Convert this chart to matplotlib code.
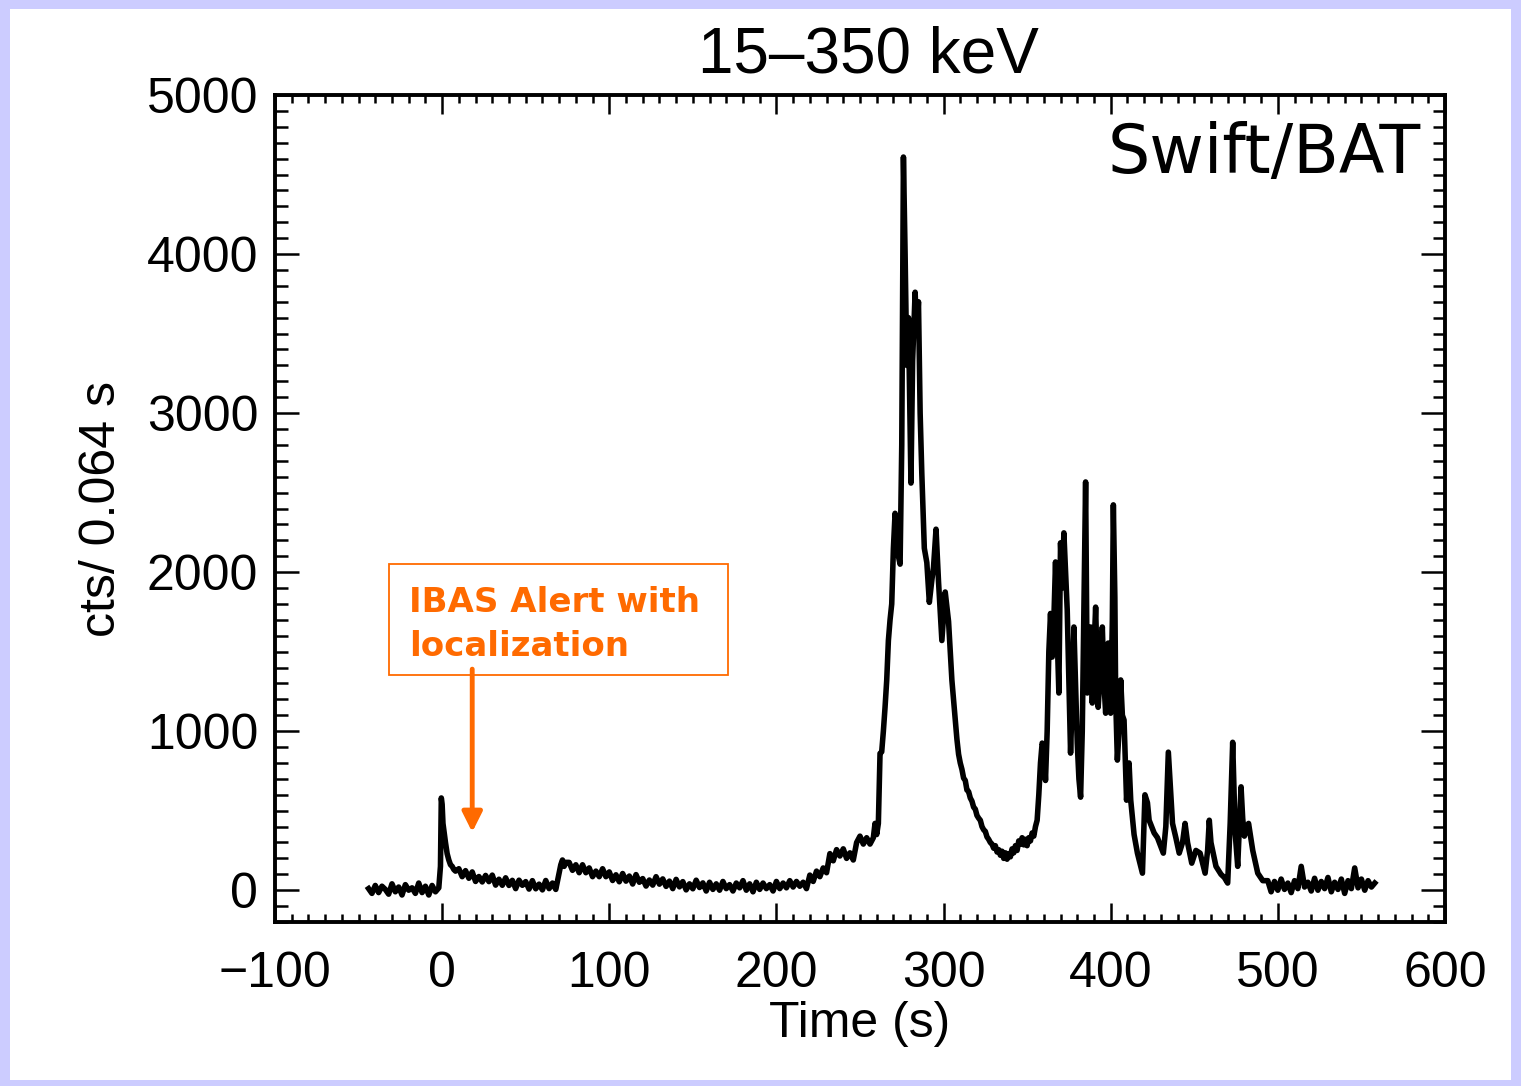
import matplotlib
matplotlib.use('Agg')
import matplotlib.pyplot as plt
from matplotlib.patches import Rectangle
from matplotlib.ticker import MultipleLocator
import numpy as np

plt.rcParams['font.family'] = ['Liberation Sans', 'DejaVu Sans']

ORANGE = '#ff6a00'
LAVENDER = '#ccccff'

# BAT light curve, 15-350 keV, counts per 0.064 s bin, by segment
pre_t = np.arange(-44, -1, 2)
pre_c = [10, -20, 30, -15, 25, 5, -25, 40, -10, 20, -30, 35, 0, 15, -20, 45,
         -15, 25, -30, 30, -10, 15]

spike_t = [-1, -0.5, 0, 0.5, 1, 2, 3, 4, 5, 6, 7, 8]
spike_c = [150, 580, 540, 420, 380, 300, 230, 190, 160, 150, 130, 120]

decay_t = np.arange(10, 69, 2)
decay_c = [135, 85, 123, 75, 115, 55, 86, 52, 93, 54,
           95, 32, 69, 31, 78, 30, 62, 10, 63, 31,
           54, 7, 60, 9, 38, 2, 61, 10, 45, 5]

bump_t = [70, 71, 72, 73, 74]
bump_c = [110, 160, 190, 150, 175]

quiet_t = np.arange(76, 215, 2)
quiet_c = [175, 125, 160, 110, 160, 110, 140, 85, 120, 85,
           135, 85, 115, 61, 97, 53, 105, 57, 89, 39,
           98, 50, 73, 26, 64, 32, 85, 38, 71, 24,
           57, 10, 68, 21, 54, 2, 40, 9, 63, 17,
           46, -5, 50, 5, 40, 0, 55, 10, 35, -5,
           45, 15, 60, 0, 40, -10, 50, 5, 45, 10,
           35, -5, 55, 10, 45, 15, 60, 20, 55, 25]

rise_t = np.arange(216, 259, 2)
rise_c = [50, 10, 95, 55, 120, 85, 140, 110, 230, 185, 255, 215, 260, 200,
          235, 190, 300, 340, 290, 330, 290, 330]

main_t = [259, 260, 261, 262, 263, 264, 265, 266, 267, 268,
          269, 270, 271, 272, 273, 274, 275, 276, 277, 278,
          279, 280.5, 281.5, 283, 284, 285, 286, 287, 288.5, 290,
          291.5, 293, 294, 295.5, 297, 299, 301, 303, 305, 307, 308]
main_c = [420, 350, 420, 860, 870, 1000, 1150, 1320, 1570, 1700,
          1800, 2150, 2370, 2300, 2100, 2050, 2800, 4610, 4000, 3300,
          3600, 2560, 3330, 3760, 3500, 3700, 3000, 2620, 2150, 2060,
          1810, 1950, 2030, 2270, 1940, 1570, 1875, 1690, 1320, 1070, 950]

gap_t = np.arange(309, 357)
gap_c = [855, 800, 760, 705, 690, 630, 620, 580, 560, 522,
         510, 470, 453, 440, 400, 380, 370, 335, 320, 300,
         290, 264, 280, 240, 255, 220, 245, 200, 235, 195,
         230, 210, 260, 235, 280, 250, 310, 290, 330, 285,
         320, 280, 330, 310, 360, 340, 400, 440]

second_t = [357, 358, 359, 360, 361, 362, 363, 364, 365, 366,
            367, 368, 369, 370, 371, 372, 373, 374, 375, 376,
            377, 378, 379, 380, 381, 382, 383, 383.5, 385, 386,
            387, 388, 389, 390, 391, 392.5, 394, 395, 396, 397,
            398.5, 400, 401, 401.6, 402.5, 403, 404, 405, 406, 407,
            408, 409.5, 411, 412, 414, 416, 419, 420.5, 422, 423,
            426, 428, 431.5, 433, 434.5, 436, 437, 439, 441, 443,
            444.5, 446, 448.5, 451, 453.5, 456.5, 458, 459, 460, 463,
            466, 468, 470, 471.5, 473, 474.5, 476, 477, 478, 479,
            480, 481, 482.5, 485, 488, 491]
second_c = [600, 800, 925, 900, 690, 1000, 1500, 1740, 1466, 1700,
            2064, 1600, 1240, 2184, 1900, 2247, 2000, 1762, 1300, 862,
            1200, 1655, 1300, 925, 700, 585, 1000, 1403, 2567, 1240,
            1400, 1655, 1177, 1500, 1780, 1150, 1400, 1655, 1300, 1113,
            1554, 1113, 1700, 2423, 1843, 1200, 818, 1000, 1322, 1100,
            1070, 566, 800, 566, 350, 233, 107, 600, 550, 440,
            360, 330, 233, 400, 868, 600, 420, 330, 233, 300,
            420, 300, 170, 250, 233, 107, 250, 440, 300, 150,
            100, 80, 45, 420, 930, 360, 150, 400, 650, 450,
            340, 380, 420, 250, 107, 60]

tail_t = np.arange(494, 559, 2)
tail_c = [60, -10, 55, 0, 70, 5, 45, -15, 60, 10,
          150, 20, 50, -5, 75, 0, 55, 10, 80, -10,
          50, 5, 70, -20, 60, 10, 140, 15, 70, 0,
          60, 20, 45]

time_s = np.concatenate([pre_t, spike_t, decay_t, bump_t, quiet_t, rise_t,
                         main_t, gap_t, second_t, tail_t])
counts = np.concatenate([pre_c, spike_c, decay_c, bump_c, quiet_c, rise_c,
                         main_c, gap_c, second_c, tail_c])

alert_time = 18

fig = plt.figure(figsize=(15.21, 10.86), dpi=100)
fig.patch.set_facecolor(LAVENDER)
fig.add_artist(Rectangle((10 / 1521, 6 / 1086), 1501 / 1521, 1071 / 1086,
                         transform=fig.transFigure, facecolor='white',
                         edgecolor='none', zorder=0))

ax = fig.add_axes([0.1808, 0.1510, 0.7692, 0.7615])
ax.plot(time_s, counts, color='black', lw=4, solid_joinstyle='round')

ax.set_xlim(-100, 600)
ax.set_ylim(-200, 5000)
ax.xaxis.set_major_locator(MultipleLocator(100))
ax.xaxis.set_minor_locator(MultipleLocator(10))
ax.yaxis.set_major_locator(MultipleLocator(1000))
ax.yaxis.set_minor_locator(MultipleLocator(100))

ax.tick_params(which='both', direction='in', top=True, right=True,
               labelsize=36, width=1.8)
ax.tick_params(axis='x', which='major', length=14, pad=21)
ax.tick_params(axis='x', which='minor', length=6)
ax.tick_params(axis='y', which='major', length=17, pad=12)
ax.tick_params(axis='y', which='minor', length=9)
for sp in ax.spines.values():
    sp.set_linewidth(2.8)

ax.set_xlabel('Time (s)', fontsize=36, labelpad=3)
ax.set_ylabel('cts/ 0.064 s', fontsize=36, labelpad=16)
ax.set_title('15–350 keV', fontsize=46, pad=16, x=0.507)

ax.text(0.979, 0.968, 'Swift/BAT', transform=ax.transAxes, ha='right',
        va='top', fontsize=48, family='DejaVu Sans')

# alert annotation
ax.add_patch(Rectangle((-32, 1355), 203, 697, fill=False, edgecolor=ORANGE,
                       lw=1.3, zorder=3))
ax.text(-20, 1750, 'IBAS Alert with', color=ORANGE, fontsize=24.5,
        fontweight='bold', family='DejaVu Sans', va='baseline')
ax.text(-20, 1473, 'localization', color=ORANGE, fontsize=24.5,
        fontweight='bold', family='DejaVu Sans', va='baseline')
ax.annotate('', xy=(alert_time, 365), xytext=(alert_time, 1390),
            arrowprops=dict(arrowstyle='-|>,head_length=0.6,head_width=0.3',
                            color=ORANGE, lw=3.5, mutation_scale=20,
                            shrinkA=0, shrinkB=0))

fig.savefig('out.png', dpi=100, facecolor=fig.get_facecolor())
